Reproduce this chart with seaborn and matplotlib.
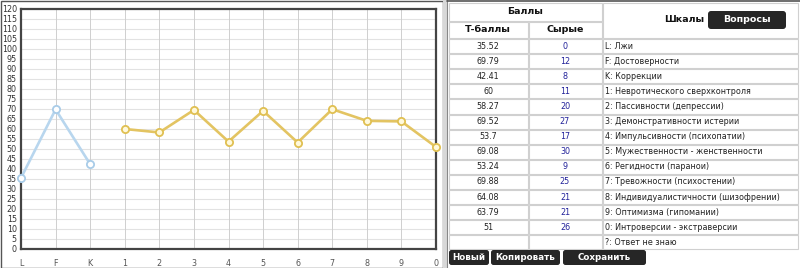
import matplotlib
matplotlib.use("Agg")
import matplotlib.pyplot as plt
import seaborn as sns
import numpy as np
import pandas as pd
from matplotlib.patches import Rectangle, FancyBboxPatch

# ---- data ----
scale_codes = ["L", "F", "K", "1", "2", "3", "4", "5", "6", "7", "8", "9", "0"]
t_scores = [35.52, 69.79, 42.41, 60, 58.27, 69.52, 53.7, 69.08, 53.24, 69.88, 64.08, 63.79, 51]
raw_scores = [0, 12, 8, 11, 20, 27, 17, 30, 9, 25, 21, 21, 26]
scale_names = [
    "L: Лжи",
    "F: Достоверности",
    "K: Коррекции",
    "1: Невротического сверхконтроля",
    "2: Пассивности (депрессии)",
    "3: Демонстративности истерии",
    "4: Импульсивности (психопатии)",
    "5: Мужественности - женственности",
    "6: Регидности (паранои)",
    "7: Тревожности (психостении)",
    "8: Индивидуалистичности (шизофрении)",
    "9: Оптимизма (гипомании)",
    "0: Интроверсии - экстраверсии",
]
extra_row = "?: Ответ не знаю"
buttons = ["Новый", "Копировать", "Сохранить"]

sns.set_theme(style="white")
plt.rcParams["font.family"] = ["DejaVu Sans"]

W, H = 800, 268
fig = plt.figure(figsize=(W / 100, H / 100), dpi=100)
fig.patch.set_facecolor("white")

# background / table axes in pixel coordinates
bg = fig.add_axes([0, 0, 1, 1])
bg.set_xlim(0, W)
bg.set_ylim(H, 0)
bg.axis("off")

# left panel border
bg.add_patch(Rectangle((0.5, 0.5), 442.5, 267, fill=False, edgecolor="#555555", lw=1.0))
# separator strip
bg.add_patch(Rectangle((443, 0), 4, H, facecolor="#d8d8d8", edgecolor="none"))
bg.plot([446.5, 446.5], [0, H], color="#888888", lw=0.8)
bg.plot([447, 800], [0.8, 0.8], color="#555555", lw=1.2)

# table geometry
col_x = [448, 528, 602, 798]
hdr1 = (2, 21)
hdr2 = (21, 38)
row_top = 38.5
row_h = 15.1
n_rows = len(scale_names) + 1
line_c = "#d0d0d0"

def cell(x0, y0, x1, y1):
    bg.add_patch(Rectangle((x0 + 0.5, y0 + 0.5), x1 - x0 - 1, y1 - y0 - 1,
                           fill=False, edgecolor=line_c, lw=0.8))

cell(col_x[0], hdr1[0], col_x[2], hdr1[1])
cell(col_x[0], hdr2[0], col_x[1], hdr2[1])
cell(col_x[1], hdr2[0], col_x[2], hdr2[1])
cell(col_x[2], hdr1[0], col_x[3], hdr2[1])
bg.text((col_x[0] + col_x[2]) / 2, 12, "Баллы", ha="center", va="center",
        fontsize=6.8, fontweight="bold", color="#111111")
bg.text((col_x[0] + col_x[1]) / 2, 30, "Т-баллы", ha="center", va="center",
        fontsize=6.8, fontweight="bold", color="#111111")
bg.text((col_x[1] + col_x[2]) / 2, 30, "Сырые", ha="center", va="center",
        fontsize=6.8, fontweight="bold", color="#111111")
bg.text(704, 20, "Шкалы", ha="right", va="center",
        fontsize=6.8, fontweight="bold", color="#111111")
bg.add_patch(FancyBboxPatch((708, 11), 78, 18, boxstyle="round,pad=0,rounding_size=3",
                            facecolor="#262626", edgecolor="none"))
bg.text(747, 20, "Вопросы", ha="center", va="center",
        fontsize=6.8, fontweight="bold", color="white")

for i in range(n_rows):
    y0 = row_top + i * row_h
    y1 = y0 + row_h
    yc = (y0 + y1) / 2
    for c in range(3):
        cell(col_x[c], y0, col_x[c + 1], y1)
    if i < len(scale_names):
        t = t_scores[i]
        bg.text((col_x[0] + col_x[1]) / 2, yc, f"{t:g}", ha="center", va="center",
                fontsize=5.8, color="#222222")
        bg.text((col_x[1] + col_x[2]) / 2, yc, str(raw_scores[i]), ha="center", va="center",
                fontsize=5.8, color="#22229a")
        bg.text(col_x[2] + 3, yc, scale_names[i], ha="left", va="center",
                fontsize=5.8, color="#222222")
    else:
        bg.text(col_x[2] + 3, yc, extra_row, ha="left", va="center",
                fontsize=5.8, color="#222222")

# buttons
bx = [449, 491, 563]
bw = [40, 69, 83]
for x, w, lab in zip(bx, bw, buttons):
    bg.add_patch(FancyBboxPatch((x, 250), w, 15, boxstyle="round,pad=0,rounding_size=2.5",
                                facecolor="#262626", edgecolor="none"))
    bg.text(x + w / 2, 257.5, lab, ha="center", va="center",
            fontsize=6.3, fontweight="bold", color="white")

# ---- chart ----
L, R, T, B = 21, 436, 9, 249
ax = fig.add_axes([L / W, (H - B) / H, (R - L) / W, (B - T) / H])
ax.set_facecolor("white")
x_all = np.arange(len(scale_codes))
df_v = pd.DataFrame({"x": x_all[:3], "y": t_scores[:3]})
df_c = pd.DataFrame({"x": x_all[3:], "y": t_scores[3:]})

for k in range(0, 121, 5):
    ax.axhline(k, color="#e2e2e2", lw=0.8, zorder=0)
for k in x_all:
    ax.axvline(k, color="#cfcfcf", lw=0.7, zorder=0)

sns.lineplot(data=df_v, x="x", y="y", ax=ax, color="#b8d6ee", lw=1.9,
             marker="o", markersize=5.2, markerfacecolor="white",
             markeredgecolor="#a9cce8", markeredgewidth=1.3, clip_on=False, zorder=5)
sns.lineplot(data=df_c, x="x", y="y", ax=ax, color="#e3c462", lw=1.9,
             marker="o", markersize=5.2, markerfacecolor="#fff9dc",
             markeredgecolor="#e0c052", markeredgewidth=1.3, clip_on=False, zorder=5)

ax.set_xlim(0, len(scale_codes) - 1)
ax.set_ylim(0, 120)
ax.set_xticks(x_all)
ax.set_xticklabels(scale_codes)
ax.set_yticks(range(0, 121, 5))
ax.set_xlabel("")
ax.set_ylabel("")
ax.tick_params(axis="both", length=0, labelsize=5.8, colors="#333333")
ax.tick_params(axis="x", colors="#555555")
ax.tick_params(axis="y", pad=3)
ax.tick_params(axis="x", pad=7)
for s in ax.spines.values():
    s.set_color("#444444")
    s.set_linewidth(1.6)
    s.set_visible(True)
ax.grid(False)

fig.savefig("out.png", dpi=100, facecolor="white")
